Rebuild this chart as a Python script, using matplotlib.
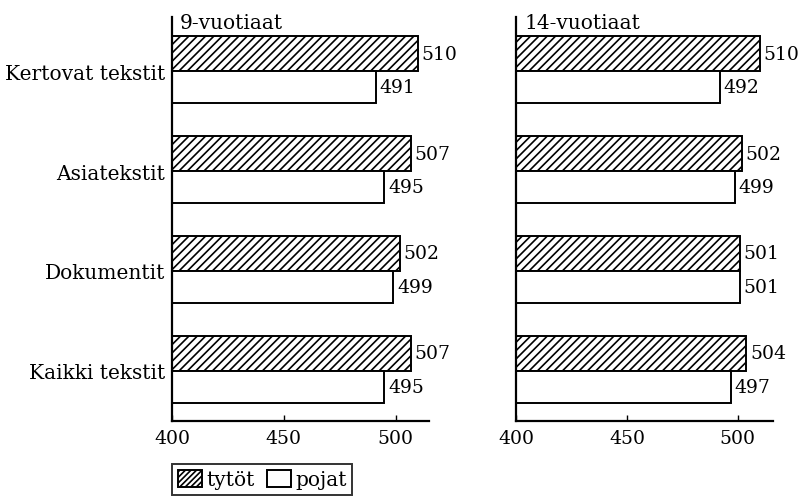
import numpy as np
import matplotlib
matplotlib.use("Agg")
import matplotlib.pyplot as plt
from matplotlib.patches import Patch

plt.rcParams['font.family'] = ['DejaVu Serif']
plt.rcParams['hatch.linewidth'] = 1.2

categories = ["Kertovat tekstit", "Asiatekstit", "Dokumentit", "Kaikki tekstit"]
panel_titles = ["9-vuotiaat", "14-vuotiaat"]
girls_9 = [510, 507, 502, 507]
boys_9 = [491, 495, 499, 495]
girls_14 = [510, 502, 501, 504]
boys_14 = [492, 499, 501, 497]
xticks = [400, 450, 500]

fs = 14.5      # words
fs_num = 13.5  # numbers

fig = plt.figure(figsize=(8, 5.02), dpi=100)
ax1 = fig.add_axes([0.215, 0.1594, 0.3215, 0.8047])
ax2 = fig.add_axes([0.6456, 0.1594, 0.3206, 0.8047])

ypos = np.arange(len(categories))
h_girls = 0.35
h_boys = 0.32


def draw_panel(ax, girls, boys, title, xmax):
    bg = ax.barh(ypos - h_girls / 2, girls, height=h_girls, color='white',
                 edgecolor='black', hatch='////', linewidth=1.4)
    bb = ax.barh(ypos + h_boys / 2, boys, height=h_boys, color='white',
                 edgecolor='black', linewidth=1.4)
    for bars, vals in ((bg, girls), (bb, boys)):
        for rect, v in zip(bars, vals):
            ax.annotate(str(v), (v, rect.get_y() + rect.get_height() / 2),
                        xytext=(2.5, 0), textcoords='offset points',
                        ha='left', va='center', fontsize=fs_num)
    ax.set_xlim(400, xmax)
    ax.set_ylim(3.5, -0.54)
    ax.set_xticks(xticks)
    ax.set_xticklabels([str(t) for t in xticks], fontsize=fs_num)
    ax.tick_params(axis='x', direction='in', length=4, width=1, pad=6)
    ax.tick_params(axis='y', length=0)
    for s in ('top', 'right'):
        ax.spines[s].set_visible(False)
    for s in ('left', 'bottom'):
        ax.spines[s].set_linewidth(1.6)
    ax.text(0.03, 1.01, title, transform=ax.transAxes, ha='left', va='top',
            fontsize=fs)


draw_panel(ax1, girls_9, boys_9, panel_titles[0], 515)
draw_panel(ax2, girls_14, boys_14, panel_titles[1], 516)

ax1.set_yticks(ypos)
ax1.set_yticklabels(categories, fontsize=fs)
ax1.tick_params(axis='y', pad=5)
ax2.set_yticks([])

handles = [Patch(facecolor='white', edgecolor='black', hatch='//////', linewidth=1.4, label='tytöt'),
           Patch(facecolor='white', edgecolor='black', linewidth=1.4, label='pojat')]
leg = fig.legend(handles=handles, loc='upper left', bbox_to_anchor=(0.215, 0.074),
                 ncol=2, frameon=True, fancybox=False, edgecolor='black',
                 fontsize=fs, handlelength=1.2, handleheight=0.9, handletextpad=0.2,
                 columnspacing=0.6, borderpad=0.3, borderaxespad=0)
leg.get_frame().set_linewidth(1.4)

fig.savefig("out.png", dpi=100)
